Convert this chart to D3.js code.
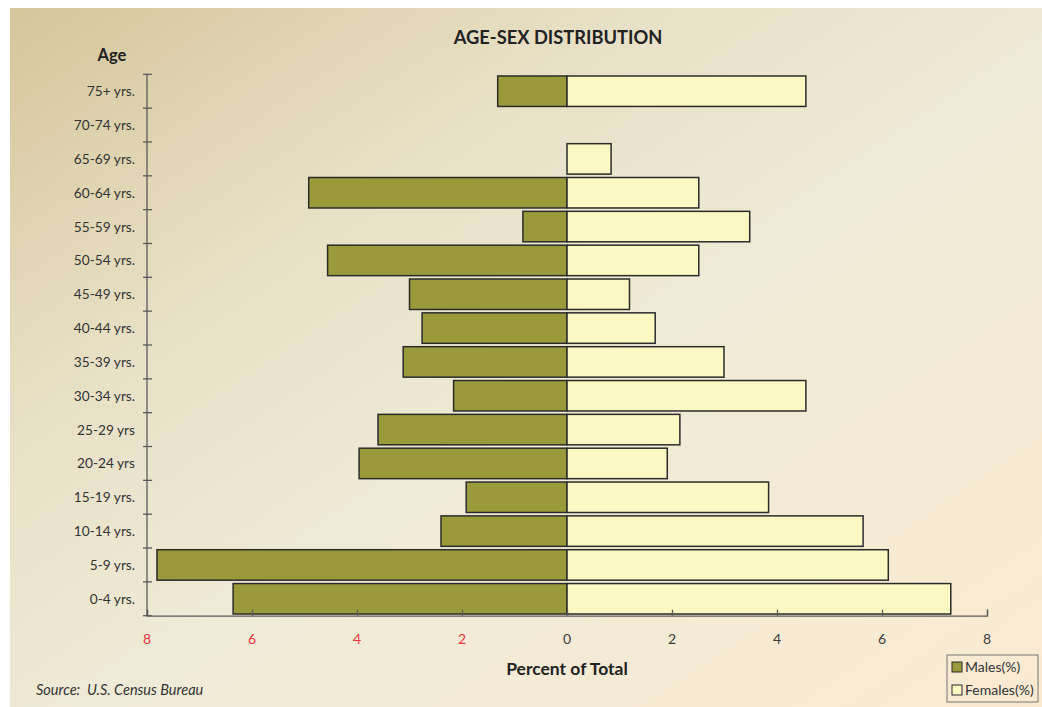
<!DOCTYPE html>
<html>
<head>
<meta charset="utf-8">
<script src="https://cdn.jsdelivr.net/npm/d3@7"></script>
<style>
  html, body { margin: 0; padding: 0; background: #ffffff; }
  svg { display: block; }
  text { font-family: Lato, "Open Sans", sans-serif; white-space: pre; }
</style>
</head>
<body>
<svg id="chart" width="1042" height="707"></svg>
<script>
// ---- Data (bottom to top as in source table) ----
const ageGroups = ["0-4 yrs.", "5-9 yrs.", "10-14 yrs.", "15-19 yrs.", "20-24 yrs", "25-29 yrs",
  "30-34 yrs.", "35-39 yrs.", "40-44 yrs.", "45-49 yrs.", "50-54 yrs.", "55-59 yrs.",
  "60-64 yrs.", "65-69 yrs.", "70-74 yrs.", "75+ yrs."];
const malesPct   = [6.36, 7.81, 2.40, 1.92, 3.96, 3.60, 2.16, 3.12, 2.76, 3.00, 4.56, 0.84, 4.92, 0, 0, 1.32];
const femalesPct = [7.31, 6.12, 5.64, 3.84, 1.91, 2.15, 4.55, 2.99, 1.68, 1.19, 2.51, 3.48, 2.51, 0.84, 0, 4.55];
const xTickValues = [-8, -6, -4, -2, 0, 2, 4, 6, 8];
const seriesNames = ["Males(%)", "Females(%)"];

const titleText = "AGE-SEX DISTRIBUTION";
const yTitle = "Age";
const xTitle = "Percent of Total";
const sourceText = "Source:  U.S. Census Bureau";

const colors = { male: "#9b9a3a", female: "#fbf8c3", stroke: "#2b2b2b", axis: "#5a5a5a" };

const svg = d3.select("#chart");

// ---- Background ----
const defs = svg.append("defs");
const grad = defs.append("linearGradient").attr("id", "bg")
  .attr("x1", "0%").attr("y1", "0%").attr("x2", "100%").attr("y2", "100%");
grad.append("stop").attr("offset", "0%").attr("stop-color", "#d6c59b");
grad.append("stop").attr("offset", "30%").attr("stop-color", "#e8e0c6");
grad.append("stop").attr("offset", "55%").attr("stop-color", "#f0ebd7");
grad.append("stop").attr("offset", "100%").attr("stop-color", "#fbead2");
svg.append("rect").attr("x", 10).attr("y", 8).attr("width", 1032).attr("height", 699)
  .attr("fill", "url(#bg)");

// ---- Scales ----
const x = d3.scaleLinear().domain([-8, 8]).range([147, 987]);
const rows = ageGroups.map((g, i) => ({ group: g, male: malesPct[i], female: femalesPct[i] }));
const y = d3.scaleBand().domain(ageGroups.slice().reverse()).range([74.3, 615.7])
  .paddingInner(0.1).paddingOuter(0.05);

// ---- Bars ----
const bars = svg.append("g");
bars.selectAll("rect.m").data(rows.filter(d => d.male > 0)).join("rect")
  .attr("class", "m")
  .attr("x", d => x(-d.male)).attr("width", d => x(0) - x(-d.male))
  .attr("y", d => y(d.group)).attr("height", y.bandwidth())
  .attr("fill", colors.male).attr("stroke", colors.stroke).attr("stroke-width", 1.5);
bars.selectAll("rect.f").data(rows.filter(d => d.female > 0)).join("rect")
  .attr("class", "f")
  .attr("x", x(0)).attr("width", d => x(d.female) - x(0))
  .attr("y", d => y(d.group)).attr("height", y.bandwidth())
  .attr("fill", colors.female).attr("stroke", colors.stroke).attr("stroke-width", 1.5);

// ---- X axis ----
const xAxisY = 615.7;
const xAxis = svg.append("g").attr("transform", `translate(0,${xAxisY})`)
  .call(d3.axisTop(x).tickValues(xTickValues).tickSize(6).tickFormat(""));
xAxis.select(".domain").attr("stroke", colors.axis).attr("stroke-width", 1.3);
xAxis.selectAll(".tick line").attr("stroke", colors.axis).attr("stroke-width", 1.3);
svg.append("g").selectAll("text").data(xTickValues).join("text")
  .attr("x", d => x(d)).attr("y", 644)
  .attr("text-anchor", "middle")
  .attr("font-size", 14)
  .attr("fill", d => d < 0 ? "#e8343c" : "#3a3a3a")
  .text(d => Math.abs(d));

// ---- Y axis ----
const yAxisG = svg.append("g").attr("transform", `translate(147,0)`);
yAxisG.append("line").attr("x1", 0).attr("x2", 0).attr("y1", 74.3).attr("y2", xAxisY)
  .attr("stroke", colors.axis).attr("stroke-width", 1.3);
const boundaries = d3.range(ageGroups.length + 1).map(i => 74.3 + i * (615.7 - 74.3) / ageGroups.length);
yAxisG.selectAll("line.tk").data(boundaries).join("line").attr("class", "tk")
  .attr("x1", -4).attr("x2", 5).attr("y1", d => d).attr("y2", d => d)
  .attr("stroke", colors.axis).attr("stroke-width", 1.3);
svg.append("g").selectAll("text").data(ageGroups).join("text")
  .attr("x", 135).attr("y", d => y(d) + y.bandwidth() / 2 + 5)
  .attr("text-anchor", "end").attr("font-size", 13.7).attr("fill", "#333")
  .text(d => d);

// ---- Titles ----
svg.append("text").attr("x", 558).attr("y", 44).attr("text-anchor", "middle")
  .attr("font-size", 18.3).attr("font-weight", "bold").attr("fill", "#222").text(titleText);
svg.append("text").attr("x", 112).attr("y", 61).attr("text-anchor", "middle")
  .attr("font-size", 16.5).attr("font-weight", "bold").attr("fill", "#222").text(yTitle);
svg.append("text").attr("x", 567).attr("y", 675).attr("text-anchor", "middle")
  .attr("font-size", 17.5).attr("font-weight", "bold").attr("fill", "#222").text(xTitle);
svg.append("text").attr("x", 36).attr("y", 695)
  .attr("font-size", 14.5).attr("font-style", "italic").attr("fill", "#333").text(sourceText);

// ---- Legend ----
const lg = svg.append("g");
lg.append("rect").attr("x", 947).attr("y", 655).attr("width", 91).attr("height", 47)
  .attr("fill", "none").attr("stroke", "#777").attr("stroke-width", 1);
const legendColors = [colors.male, colors.female];
seriesNames.forEach((n, i) => {
  const cy = 667 + i * 23;
  lg.append("rect").attr("x", 952).attr("y", cy - 5).attr("width", 10).attr("height", 10)
    .attr("fill", legendColors[i]).attr("stroke", colors.stroke).attr("stroke-width", 1);
  lg.append("text").attr("x", 965).attr("y", cy + 5).attr("font-size", 14).attr("fill", "#333").text(n);
});
</script>
</body>
</html>
